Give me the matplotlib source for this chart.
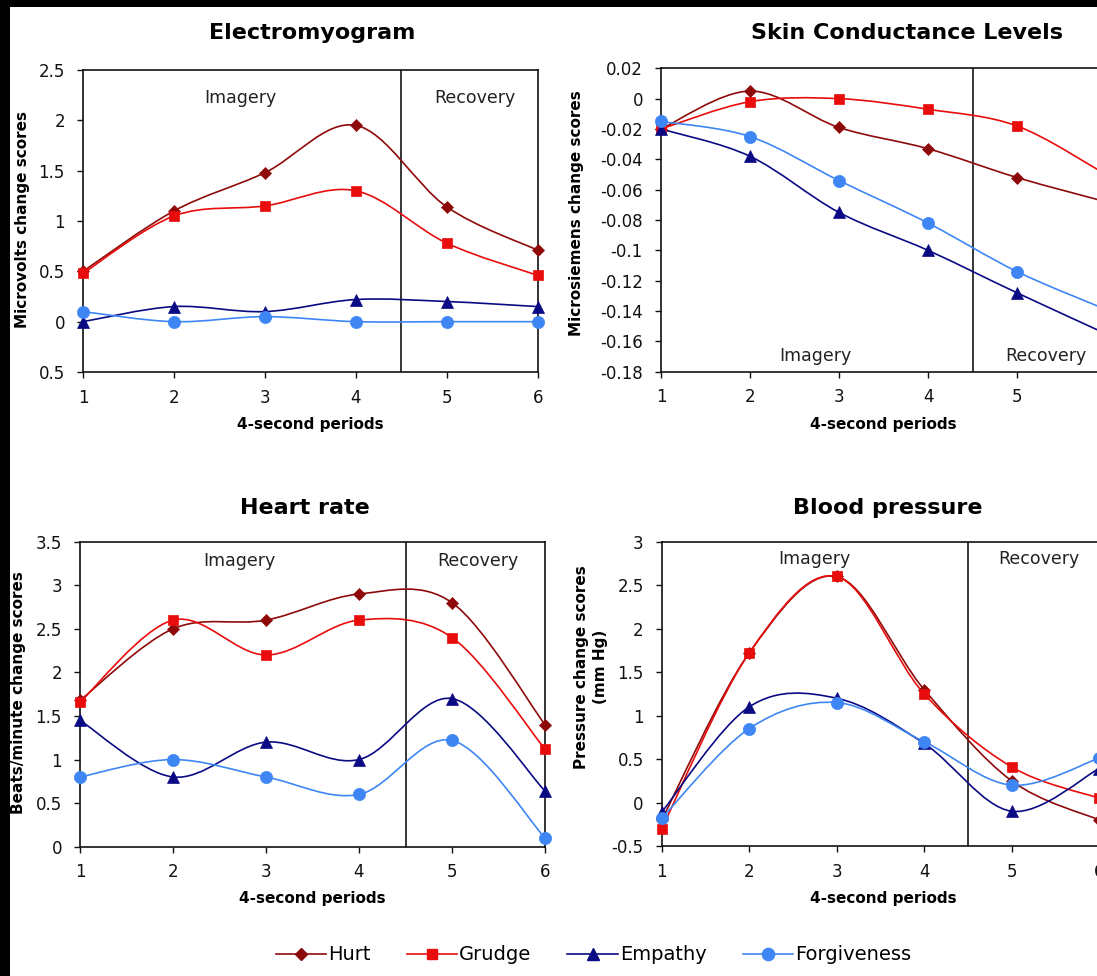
import numpy as np
import matplotlib
matplotlib.use('Agg')
import matplotlib.pyplot as plt
from matplotlib.path import Path
from matplotlib.patches import PathPatch, Rectangle
from matplotlib.lines import Line2D

plt.rcParams['font.family'] = ['DejaVu Sans']
plt.rcParams['axes.unicode_minus'] = False

W, H = 1097, 976

# ---------------- data ----------------
periods = [1, 2, 3, 4, 5, 6]
series_names = ['Hurt', 'Grudge', 'Empathy', 'Forgiveness']

emg_hurt = [0.50, 1.10, 1.48, 1.95, 1.14, 0.71]
emg_grudge = [0.48, 1.05, 1.15, 1.30, 0.78, 0.46]
emg_empathy = [0.00, 0.15, 0.10, 0.22, 0.20, 0.15]
emg_forgiveness = [0.10, 0.00, 0.05, 0.00, 0.00, 0.00]

scl_hurt = [-0.020, 0.005, -0.019, -0.033, -0.052, -0.068]
scl_grudge = [-0.020, -0.002, 0.000, -0.007, -0.018, -0.050]
scl_empathy = [-0.020, -0.038, -0.075, -0.100, -0.128, -0.155]
scl_forgiveness = [-0.015, -0.025, -0.054, -0.082, -0.114, -0.139]

hr_hurt = [1.68, 2.50, 2.60, 2.90, 2.80, 1.40]
hr_grudge = [1.66, 2.60, 2.20, 2.60, 2.40, 1.12]
hr_empathy = [1.45, 0.80, 1.20, 1.00, 1.70, 0.64]
hr_forgiveness = [0.80, 1.00, 0.80, 0.60, 1.22, 0.10]

bp_hurt = [-0.20, 1.72, 2.60, 1.30, 0.25, -0.20]
bp_grudge = [-0.30, 1.72, 2.60, 1.25, 0.41, 0.05]
bp_empathy = [-0.11, 1.10, 1.20, 0.68, -0.10, 0.39]
bp_forgiveness = [-0.18, 0.85, 1.15, 0.70, 0.20, 0.51]

emg_yticks = [-0.5, 0, 0.5, 1, 1.5, 2, 2.5]
emg_yticklabels = ['0.5', '0', '0.5', '1', '1.5', '2', '2.5']
scl_yticks = [-0.18, -0.16, -0.14, -0.12, -0.10, -0.08, -0.06, -0.04, -0.02, 0, 0.02]
scl_yticklabels = ['-0.18', '-0.16', '-0.14', '-0.12', '-0.1', '-0.08', '-0.06',
                   '-0.04', '-0.02', '0', '0.02']
hr_yticks = [0, 0.5, 1, 1.5, 2, 2.5, 3, 3.5]
hr_yticklabels = ['0', '0.5', '1', '1.5', '2', '2.5', '3', '3.5']
bp_yticks = [-0.5, 0, 0.5, 1, 1.5, 2, 2.5, 3]
bp_yticklabels = ['-0.5', '0', '0.5', '1', '1.5', '2', '2.5', '3']

colors = ['#8E0A0A', '#E80C0C', '#0A0A84', '#3F86F5']
markers = ['D', 's', '^', 'o']
msizes = [5.8, 7.4, 8.6, 8.8]

# ---------------- helpers ----------------
fig = plt.figure(figsize=(W / 100, H / 100), dpi=100)
fig.patch.set_facecolor('black')
fig.add_artist(Rectangle((10 / W, 0), 1, (H - 7) / H, transform=fig.transFigure,
                         facecolor='white', edgecolor='none', zorder=-10))


def add_axes_px(x0, x1, y0, y1):
    return fig.add_axes([x0 / W, 1 - y1 / H, (x1 - x0) / W, (y1 - y0) / H])


def ftext(x, y, s, **kw):
    fig.text(x / W, 1 - y / H, s, ha='center', va='center', **kw)


def smooth_path(x, y):
    pts = np.column_stack([x, y]).astype(float)
    n = len(pts)
    verts = [pts[0]]
    codes = [Path.MOVETO]
    for i in range(n - 1):
        p0 = pts[i - 1] if i > 0 else pts[i]
        p1 = pts[i]
        p2 = pts[i + 1]
        p3 = pts[i + 2] if i + 2 < n else pts[i + 1]
        c1 = p1 + (p2 - p0) / 6.0
        c2 = p2 - (p3 - p1) / 6.0
        verts += [c1, c2, p2]
        codes += [Path.CURVE4] * 3
    return Path(verts, codes)


def draw_panel(ax, data, ylim, yticks, yticklabels, img_pos, rec_pos):
    for vals, c, m, ms in zip(data, colors, markers, msizes):
        ax.add_patch(PathPatch(smooth_path(periods, vals), facecolor='none',
                               edgecolor=c, lw=1.2, zorder=3))
        ax.plot(periods, vals, linestyle='none', marker=m, ms=ms, color=c,
                mec=c, mew=0.5, zorder=4, clip_on=False)
    ax.set_xlim(1, 6)
    ax.set_ylim(*ylim)
    ax.set_xticks(periods)
    ax.set_xticklabels([str(p) for p in periods])
    ax.set_yticks(yticks)
    ax.set_yticklabels(yticklabels)
    ax.axvline(4.5, color='black', lw=1.1, zorder=2)
    ax.tick_params(axis='both', direction='out', length=4, width=1, labelsize=12,
                   colors='#111111')
    ax.tick_params(axis='x', pad=8)
    ax.tick_params(axis='y', pad=9)
    for sp in ax.spines.values():
        sp.set_linewidth(1.2)
        sp.set_color('#111111')
    ax.text(img_pos[0], img_pos[1], 'Imagery', ha='center', va='center',
            fontsize=12.5, color='#222222')
    ax.text(rec_pos[0], rec_pos[1], 'Recovery', ha='center', va='center',
            fontsize=12.5, color='#222222')


# ---------------- panels ----------------
ax1 = add_axes_px(83, 537.7, 70, 372)
draw_panel(ax1, [emg_hurt, emg_grudge, emg_empathy, emg_forgiveness], (-0.5, 2.5),
           emg_yticks, emg_yticklabels, (2.73, 2.22), (5.31, 2.22))
ftext(312, 33, 'Electromyogram', fontsize=16, fontweight='bold')
ftext(310, 425, '4-second periods', fontsize=11, fontweight='bold')
ftext(23, 220, 'Microvolts change scores', fontsize=11, fontweight='bold', rotation=90)

ax2 = add_axes_px(661, 1106, 68.3, 371.7)
draw_panel(ax2, [scl_hurt, scl_grudge, scl_empathy, scl_forgiveness], (-0.18, 0.02),
           scl_yticks, scl_yticklabels, (2.73, -0.1695), (5.32, -0.1695))
ftext(907, 33, 'Skin Conductance Levels', fontsize=16, fontweight='bold')
ftext(883, 425, '4-second periods', fontsize=11, fontweight='bold')
ftext(576, 213, 'Microsiemens change scores', fontsize=11, fontweight='bold', rotation=90)

ax3 = add_axes_px(80, 545, 541.7, 846.7)
draw_panel(ax3, [hr_hurt, hr_grudge, hr_empathy, hr_forgiveness], (0, 3.5),
           hr_yticks, hr_yticklabels, (2.71, 3.28), (5.28, 3.28))
ftext(305, 508, 'Heart rate', fontsize=16, fontweight='bold')
ftext(312, 898, '4-second periods', fontsize=11, fontweight='bold')
ftext(19, 693, 'Beats/minute change scores', fontsize=11, fontweight='bold', rotation=90)

ax4 = add_axes_px(661.7, 1099, 541.7, 846)
draw_panel(ax4, [bp_hurt, bp_grudge, bp_empathy, bp_forgiveness], (-0.5, 3),
           bp_yticks, bp_yticklabels, (2.74, 2.8), (5.31, 2.8))
ftext(888, 508, 'Blood pressure', fontsize=16, fontweight='bold')
ftext(883, 898, '4-second periods', fontsize=11, fontweight='bold')
ftext(591, 667, 'Pressure change scores\n(mm Hg)', fontsize=11, fontweight='bold',
      rotation=90, linespacing=1.3)

# ---------------- legend ----------------
handles = [Line2D([0], [0], color=c, lw=1.2, marker=m, ms=ms, mec=c)
           for c, m, ms in zip(colors, markers, msizes)]
fig.legend(handles, series_names, loc='center', bbox_to_anchor=(593.5 / W, 1 - 955 / H),
           ncol=4, frameon=False, fontsize=14, handlelength=2.6, handletextpad=0.1,
           columnspacing=1.85, borderpad=0)

fig.savefig('out.png', dpi=100, facecolor=fig.get_facecolor())
